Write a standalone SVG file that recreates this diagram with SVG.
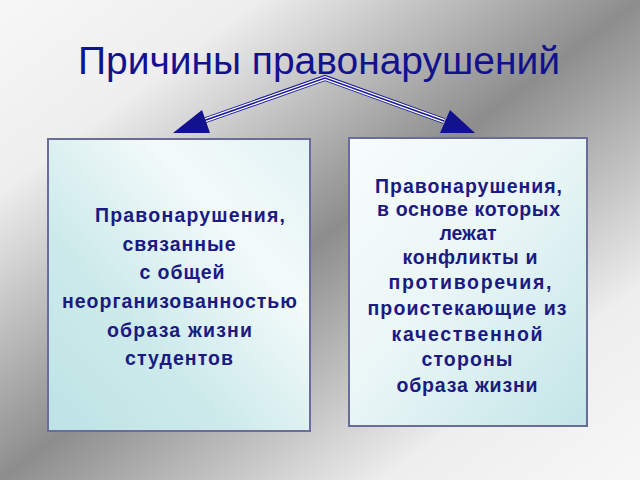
<svg xmlns="http://www.w3.org/2000/svg" width="640" height="480" viewBox="0 0 640 480">
  <defs>
    <linearGradient id="bg" x1="0" y1="0" x2="1" y2="1">
      <stop offset="0" stop-color="#f7f7f7"/>
      <stop offset="0.2" stop-color="#eeeeee"/>
      <stop offset="0.5" stop-color="#8d8d8d"/>
      <stop offset="0.8" stop-color="#eeeeee"/>
      <stop offset="1" stop-color="#f7f7f7"/>
    </linearGradient>
    <linearGradient id="fillL" x1="0" y1="1" x2="1" y2="0">
      <stop offset="0" stop-color="#bde3e5"/>
      <stop offset="0.35" stop-color="#cdeaeb"/>
      <stop offset="0.7" stop-color="#f3fafa"/>
      <stop offset="1" stop-color="#e2f3f4"/>
    </linearGradient>
    <linearGradient id="fillR" x1="0" y1="0" x2="1" y2="1">
      <stop offset="0" stop-color="#f8fcfc"/>
      <stop offset="0.45" stop-color="#ebf6f7"/>
      <stop offset="1" stop-color="#c2e5e7"/>
    </linearGradient>
    <style>
      .title { font-family: "Liberation Sans", Arial, sans-serif; font-size: 38px; fill: #12128f; }
      .box { stroke: #6c6c9c; stroke-width: 2; }
      .label { font-family: "Liberation Sans", Arial, sans-serif; font-size: 19.5px; font-weight: bold; fill: #1a1a82; text-anchor: middle; }
      .l1 { fill: none; stroke: #1a1a96; stroke-width: 6; stroke-linejoin: miter; }
      .l2 { fill: none; stroke: #ffffff; stroke-width: 4; stroke-linejoin: miter; }
      .l3 { fill: none; stroke: #1a1a96; stroke-width: 1.6; stroke-linejoin: miter; }
      .head { fill: #12128f; }
    </style>
  </defs>

  <rect x="0" y="0" width="640" height="480" fill="url(#bg)"/>

  <g id="title">
    <text class="title" x="78" y="74" textLength="482" lengthAdjust="spacingAndGlyphs">Причины правонарушений</text>
  </g>

  <g id="connectors">
    <path class="l1" d="M203,121 L325,78 L444,121"/>
    <path class="l2" d="M203,121 L325,78 L444,121"/>
    <path class="l3" d="M203,121 L325,78 L444,121"/>
    <polygon class="head" points="202,110 210,133 173,133"/>
    <polygon class="head" points="450,110 475,133 440,133"/>
  </g>

  <g id="node-left">
    <rect class="box" x="48" y="139" width="262" height="292" fill="url(#fillL)"/>
    <text class="label" x="190" y="222" textLength="190">Правонарушения,</text>
    <text class="label" x="179" y="251" textLength="113">связанные</text>
    <text class="label" x="182" y="279" textLength="85">с общей</text>
    <text class="label" x="179.5" y="308" textLength="235">неорганизованностью</text>
    <text class="label" x="179.5" y="337" textLength="145">образа жизни</text>
    <text class="label" x="179" y="365" textLength="108">студентов</text>
  </g>

  <g id="node-right">
    <rect class="box" x="349" y="138" width="238" height="288" fill="url(#fillR)"/>
    <text class="label" x="468.5" y="193" textLength="187">Правонарушения,</text>
    <text class="label" x="468.5" y="216" textLength="183">в основе которых</text>
    <text class="label" x="468" y="240" textLength="57">лежат</text>
    <text class="label" x="470" y="264" textLength="135">конфликты и</text>
    <text class="label" x="470" y="289" textLength="163">противоречия,</text>
    <text class="label" x="467" y="315" textLength="199">проистекающие из</text>
    <text class="label" x="467" y="341" textLength="151">качественной</text>
    <text class="label" x="467" y="366" textLength="91">стороны</text>
    <text class="label" x="467" y="392" textLength="141">образа жизни</text>
  </g>
</svg>
